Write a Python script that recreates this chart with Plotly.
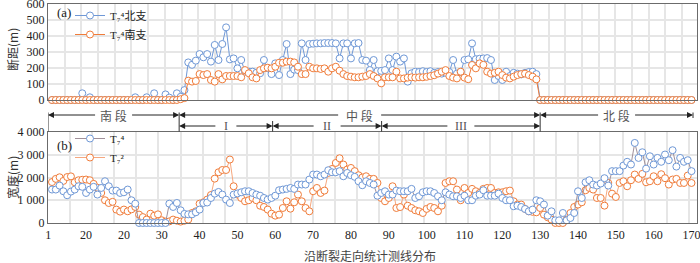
import plotly.graph_objects as go

# ---------------- data ----------------
line_idx = list(range(1, 171))

top_north = [0,0,0,0,0,0,0,0,42,0,
             17,0,0,0,0,0,0,0,0,0,
             0,0,17,0,0,17,0,42,0,0,
             35,15,0,42,20,62,235,220,246,287,
             267,287,240,344,250,350,454,254,260,198,
             250,177,177,177,170,167,250,198,162,229,
             156,250,350,162,190,187,354,250,350,352,
             354,354,356,356,356,354,260,354,354,260,
             354,356,250,246,187,250,180,182,187,260,
             187,271,240,260,115,167,177,175,180,175,
             180,170,175,165,170,175,250,165,175,250,
             254,354,255,258,260,262,250,125,150,125,
             177,150,170,165,160,170,175,177,162,0,
             0,0,0,0,0,0,0,0,0,0,
             0,0,0,0,0,0,0,0,0,0,
             0,0,0,0,0,0,0,0,0,0,
             0,0,0,0,0,0,0,0,0,0]

top_south = [0,0,0,0,0,0,0,0,0,0,
             0,0,0,0,0,0,0,0,0,0,
             0,0,0,0,0,0,0,0,0,0,
             0,0,0,0,5,12,121,115,119,162,
             156,162,125,115,162,129,150,150,150,150,
             142,187,167,142,135,187,198,202,198,208,
             233,233,240,240,235,208,162,162,208,198,
             198,194,198,177,198,208,183,162,150,146,
             142,142,146,150,162,150,135,104,142,142,
             142,177,135,135,140,142,140,142,142,145,
             150,155,165,177,187,150,140,135,177,140,
             130,219,198,229,220,177,165,170,177,156,
             140,135,146,156,162,165,156,146,129,0,
             0,0,0,0,0,0,0,0,0,0,
             0,0,0,0,0,0,0,0,0,0,
             0,0,0,0,0,0,0,0,0,0,
             0,0,0,0,0,0,0,0,0,0]

width_T74 = [1470,1470,1645,1395,1220,1380,1470,1615,1590,1320,
             1470,1590,1250,1540,1835,1615,1425,1425,1320,1350,
             1470,1000,850,0,0,0,0,0,0,0,
             0,850,705,880,558,400,380,380,470,590,
             880,900,1100,1290,1365,1250,1030,880,1250,1300,
             1350,1395,1395,1320,1250,1200,1100,1030,1100,1200,
             1440,1470,1500,1540,1500,1690,1690,1690,1910,2130,
             2130,2055,2130,2320,2230,2230,2280,2055,2200,2100,
             2030,1835,1660,1835,1760,1690,1200,1320,1395,1250,
             1250,1425,1395,1395,1395,1500,1100,1175,1350,1395,
             1395,1320,1175,1000,1350,1250,1175,1175,1100,1200,
             1000,1000,1200,1250,1440,1200,1200,1200,1290,1100,
             1000,1000,736,763,705,617,514,590,1000,955,
             810,323,514,117,117,440,117,220,440,1395,
             1100,1790,1880,1690,1645,1735,1970,1645,2280,2280,
             2280,2525,2690,2570,3520,2860,3110,2390,2935,2570,
             2860,2690,3010,2760,3200,2480,2860,2690,2760,2280]

width_T72 = [1800,1940,2010,1850,2020,2050,1790,1880,1900,1910,
             1880,1720,1550,1320,1000,880,930,590,500,590,
             515,600,705,370,260,150,410,320,380,120,
             60,70,150,100,60,100,150,440,514,850,
             910,1030,1230,1950,2230,2330,2330,2790,1615,1250,
             1100,955,1000,1100,1000,760,705,590,410,323,
             367,660,955,630,910,1250,955,660,514,1395,
             1540,1320,1425,2200,2375,2640,2845,2570,2350,2420,
             2280,2100,2000,2055,1940,1940,1760,1100,955,1100,
             1615,660,700,1250,760,660,560,514,440,620,
             705,660,514,760,1760,1835,1835,1470,1000,1540,
             1320,1500,1395,1320,1500,1540,1540,1320,1350,1350,
             1395,1425,955,810,810,617,514,490,470,660,
             367,250,147,0,0,0,147,440,705,810,
             910,1440,1540,1470,1100,1100,763,1760,1290,1145,
             1760,1835,1615,1880,2130,1940,2160,1790,1835,2055,
             1835,2145,1970,1690,1910,1940,1760,1760,2085,1760]

x_tickvals = [0,10,20,30,40,50,60,70,80,90,100,110,120,130,140,150,160,170]
x_ticktext = ["1","20","20","30","40","50","60","70","80","90","100","110",
              "120","130","140","150","160","170"]
top_ticks = [0,100,200,300,400,500,600]
bottom_tickvals = [0,1000,2000,3000,4000]
bottom_ticktext = ["0","1 000","2 000","3 000","4 000"]

# segments: (start, end, label, row)
segments = [(-0.06, 34.6, "南 段", 1), (34.6, 130.0, "中 段", 1), (130.0, 170.4, "北 段", 1),
            (34.6, 59.3, "I", 2), (59.3, 88.1, "II", 2), (88.1, 130.0, "III", 2)]

# ---------------- styling ----------------
BLUE = "#6f98d6"
ORANGE = "#f07c3a"
GRID = "#e6e6e6"
FRAME = "#6b6b6b"
SERIF = "Liberation Serif, Noto Sans CJK SC, serif"
CJK = "Noto Sans CJK SC, sans-serif"
XR = [-0.06, 171.45]
PX_PER_UNIT = 649 / (XR[1] - XR[0])


def py(p):  # pixel y -> paper y
    return (223 - p) / 219


fig = go.Figure()

def mk(color):
    return dict(symbol="circle", size=7, color="white", line=dict(color=color, width=1))

fig.add_trace(go.Scatter(x=line_idx, y=top_north, xaxis="x", yaxis="y", mode="lines+markers",
                         name="T₇⁴北支", legend="legend",
                         line=dict(color=BLUE, width=1), marker=mk(BLUE), cliponaxis=False))
fig.add_trace(go.Scatter(x=line_idx, y=top_south, xaxis="x", yaxis="y", mode="lines+markers",
                         name="T₇⁴南支", legend="legend",
                         line=dict(color=ORANGE, width=1), marker=mk(ORANGE), cliponaxis=False))
fig.add_trace(go.Scatter(x=line_idx, y=width_T72, xaxis="x2", yaxis="y2", mode="lines+markers",
                         name="T₇²", legend="legend2", showlegend=False,
                         line=dict(color="#f6a77e", width=1), marker=mk(ORANGE), cliponaxis=False))
fig.add_trace(go.Scatter(x=line_idx, y=width_T74, xaxis="x2", yaxis="y2", mode="lines+markers",
                         name="T₇⁴", legend="legend2",
                         line=dict(color="#a0909a", width=1), marker=mk(BLUE), cliponaxis=False))
fig.add_trace(go.Scatter(x=[None], y=[None], xaxis="x2", yaxis="y2", mode="lines+markers",
                         name="T₇²", legend="legend2",
                         line=dict(color="#f6a77e", width=1), marker=mk(ORANGE)))

axis_common = dict(showline=True, mirror=True, linecolor=FRAME, linewidth=1.3, zeroline=False,
                   ticks="", ticklabeloverflow="allow",
                   tickfont=dict(family=SERIF, size=12, color="#222"))

fig.update_layout(
    width=700, height=263, margin=dict(l=48, r=3, t=4, b=40, autoexpand=False),
    paper_bgcolor="white", plot_bgcolor="white",
    xaxis=dict(domain=[0, 1], anchor="y", range=XR, tick0=XR[0], dtick=4.41,
               showgrid=True, gridcolor=GRID, gridwidth=1.5, showticklabels=False, **axis_common),
    yaxis=dict(domain=[0.5616, 1], anchor="x", range=[0, 600], tickvals=top_ticks,
               showgrid=True, gridcolor=GRID, gridwidth=1.5, **axis_common),
    xaxis2=dict(domain=[0, 1], anchor="y2", range=XR, tickvals=x_tickvals, ticktext=x_ticktext,
                showgrid=False,
                minor=dict(tick0=XR[0], dtick=5.84, showgrid=True, gridcolor=GRID, gridwidth=1.5, ticks=""),
                **axis_common),
    yaxis2=dict(domain=[0, 0.4155], anchor="x2", range=[0, 4000], tickvals=bottom_tickvals,
                ticktext=bottom_ticktext, showgrid=True, gridcolor=GRID, gridwidth=1.5, **axis_common),
    legend=dict(x=(70 - 48) / 649, y=py(1), xanchor="left",
                yanchor="top", bgcolor="rgba(0,0,0,0)", font=dict(family=SERIF, size=11, color="#222"),
                tracegroupgap=0, itemwidth=30),
    legend2=dict(x=(70 - 48) / 649, y=py(124), xanchor="left", yanchor="top",
                 bgcolor="rgba(0,0,0,0)", font=dict(family=SERIF, size=11, color="#222"),
                 tracegroupgap=0, itemwidth=30),
    showlegend=True,
)

ann = []
ann.append(dict(text="(a)", x=(55 - 48) / 649, y=py(12), xref="paper", yref="paper",
                xanchor="left", yanchor="middle", showarrow=False, font=dict(family=SERIF, size=13, color="#222")))
ann.append(dict(text="(b)", x=(55 - 48) / 649, y=py(145), xref="paper", yref="paper",
                xanchor="left", yanchor="middle", showarrow=False, font=dict(family=SERIF, size=13, color="#222")))
ann.append(dict(text="断距(m)", x=(12 - 48) / 649, y=py(50), xref="paper", yref="paper", textangle=-90,
                xanchor="center", yanchor="middle",
                showarrow=False, font=dict(family=CJK, size=12, color="#333")))
ann.append(dict(text="宽度(m)", x=(12 - 48) / 649, y=py(178), xref="paper", yref="paper", textangle=-90,
                xanchor="center", yanchor="middle",
                showarrow=False, font=dict(family=CJK, size=12, color="#333")))
ann.append(dict(text="沿断裂走向统计测线分布", x=(370 - 48) / 649, y=py(255), xref="paper", yref="paper",
                xanchor="center", yanchor="middle",
                showarrow=False, font=dict(family=CJK, size=12, color="#444")))

shapes = []
row_y = {1: py(115), 2: py(126)}
gaps = {"南 段": 17, "中 段": 20, "北 段": 17, "I": 9, "II": 12, "III": 12}
for (s, e, lab, row) in segments:
    mid = (s + e) / 2
    yv = row_y[row]
    g = gaps[lab] / PX_PER_UNIT
    ann.append(dict(text=lab, x=mid, y=yv, xref="x2", yref="paper", showarrow=False,
                    xanchor="center", yanchor="middle",
                    font=dict(family=CJK if row == 1 else SERIF, size=12, color="#555")))
    for head, tail in ((s, mid - g), (e, mid + g)):
        ann.append(dict(text="", x=head, y=yv, xref="x2", yref="paper", ax=tail, ay=0,
                        axref="x2", ayref="pixel", showarrow=True, arrowhead=2, arrowsize=1.2,
                        arrowwidth=1, arrowcolor="#222", standoff=0, startstandoff=0))
sep_rows1 = [-0.06, 34.6, 130.0]
for sx in sep_rows1:
    shapes.append(dict(type="line", xref="x2", yref="paper", x0=sx, x1=sx, y0=py(112.5), y1=py(131.5),
                       line=dict(color="#333", width=1)))
for sx in [59.3, 88.1]:
    shapes.append(dict(type="line", xref="x2", yref="paper", x0=sx, x1=sx, y0=py(121), y1=py(131.5),
                       line=dict(color="#333", width=1)))
shapes.append(dict(type="line", xref="x2", yref="paper", x0=170.4, x1=170.4, y0=py(112.5), y1=py(118),
                   line=dict(color="#333", width=1)))

fig.update_layout(annotations=ann, shapes=shapes)
fig.write_html("out.html", config={"displayModeBar": False},
               post_script="document.body.style.margin='0px';document.body.style.overflow='hidden';")
